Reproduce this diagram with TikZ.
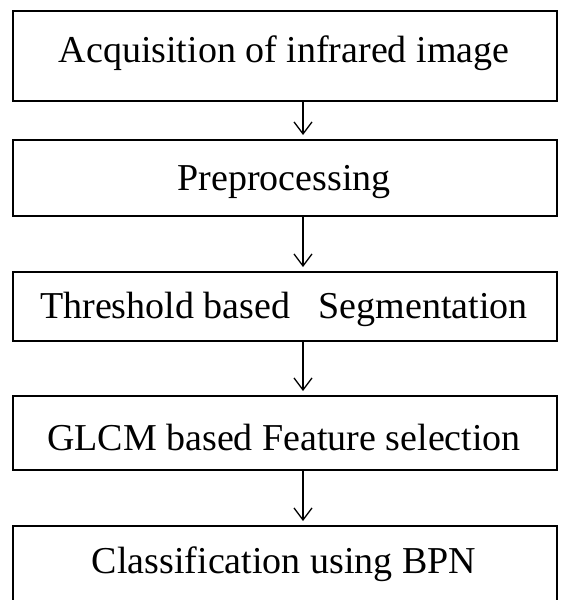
\documentclass[tikz,border=0pt]{standalone}
\usepackage{fontspec}
\setmainfont{Liberation Serif}
\usetikzlibrary{arrows.meta}
\begin{document}
\begin{tikzpicture}[x=1pt,y=-1pt,
  box/.style={draw, line width=1.5pt, minimum width=544pt, inner sep=0pt, anchor=north west},
  txt/.style={anchor=base, inner sep=0pt, font=\fontsize{38}{45}\selectfont},
  arr/.style={line width=1.3pt, -{Straight Barb[length=12pt,width=18pt,line width=1.3pt]}, shorten >=4pt}]
\useasboundingbox (0,0) rectangle (560,600);
\clip (0,0) rectangle (560,600);
\fill[white] (0,0) rectangle (560,600);
\node[box, minimum height=90pt] (b1) at (12,10) {};
\node[box, minimum height=76pt] (b2) at (12,139) {};
\node[box, minimum height=69pt] (b3) at (12,271) {};
\node[box, minimum height=74pt] (b4) at (12,395) {};
\node[box, minimum height=92pt] (b5) at (12,525) {};
\node[txt] (t1) at (284,62) {Acquisition of infrared image};
\node[txt] (t2) at (284,190) {Preprocessing};
\node[txt] (t3) at (284,318) {Threshold based\hspace{0.75em}Segmentation};
\node[txt] (t4) at (284,450) {GLCM based Feature selection};
\node[txt] (t5) at (284,573) {Classification using BPN};
\coordinate (ax) at (303,0);
\draw[arr] (b1.south -| ax) -- (b2.north -| ax);
\draw[arr] (b2.south -| ax) -- (b3.north -| ax);
\draw[arr] (b3.south -| ax) -- (b4.north -| ax);
\draw[arr] (b4.south -| ax) -- (b5.north -| ax);
\end{tikzpicture}
\end{document}
